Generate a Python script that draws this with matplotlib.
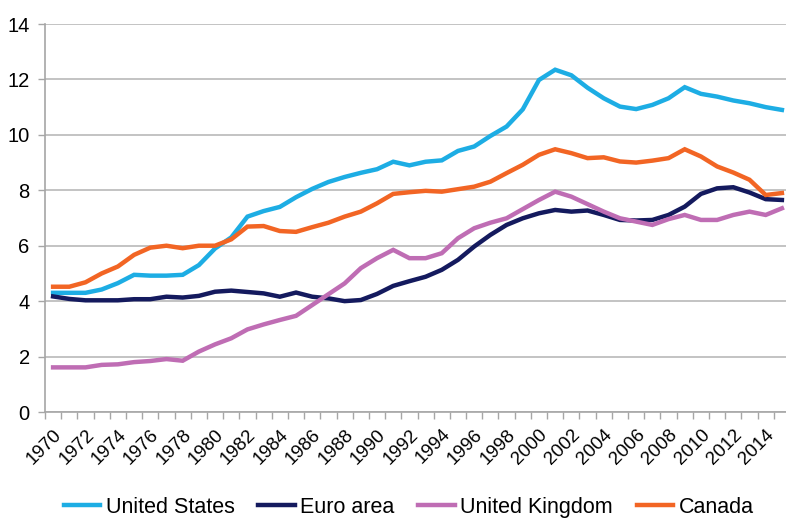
import numpy as np
import matplotlib
matplotlib.use('Agg')
import matplotlib.pyplot as plt
from matplotlib.ticker import MultipleLocator, FixedLocator

plt.rcParams['font.family'] = ['Liberation Sans', 'DejaVu Sans']

years = list(range(1970, 2016))

united_states = [4.3, 4.3, 4.3, 4.42, 4.65, 4.95, 4.92, 4.92, 4.95, 5.3,
                 5.9, 6.3, 7.05, 7.25, 7.4, 7.75, 8.05, 8.3, 8.48, 8.63,
                 8.76, 9.03, 8.9, 9.03, 9.08, 9.42, 9.58, 9.96, 10.3, 10.92,
                 11.98, 12.35, 12.15, 11.7, 11.32, 11.02, 10.93, 11.08, 11.32, 11.72,
                 11.48, 11.38, 11.24, 11.14, 11.0, 10.9]
euro_area = [4.17, 4.08, 4.03, 4.03, 4.03, 4.07, 4.07, 4.16, 4.13, 4.19,
             4.34, 4.38, 4.33, 4.28, 4.16, 4.31, 4.16, 4.1, 4.0, 4.04,
             4.26, 4.55, 4.72, 4.88, 5.13, 5.49, 5.97, 6.39, 6.75, 6.99,
             7.17, 7.29, 7.23, 7.27, 7.11, 6.93, 6.91, 6.93, 7.11, 7.41,
             7.87, 8.07, 8.11, 7.92, 7.68, 7.65]
united_kingdom = [1.61, 1.61, 1.61, 1.7, 1.72, 1.8, 1.84, 1.91, 1.85, 2.18,
                  2.44, 2.66, 2.98, 3.16, 3.32, 3.47, 3.86, 4.25, 4.64, 5.19,
                  5.55, 5.85, 5.55, 5.55, 5.73, 6.27, 6.63, 6.83, 6.99, 7.32,
                  7.65, 7.95, 7.77, 7.5, 7.23, 6.99, 6.87, 6.75, 6.96, 7.11,
                  6.93, 6.93, 7.11, 7.23, 7.11, 7.35]
canada = [4.52, 4.52, 4.68, 5.0, 5.25, 5.67, 5.93, 6.0, 5.91, 6.0,
          6.0, 6.23, 6.69, 6.71, 6.53, 6.5, 6.67, 6.83, 7.05, 7.23,
          7.53, 7.87, 7.93, 7.98, 7.95, 8.04, 8.13, 8.31, 8.62, 8.92,
          9.28, 9.48, 9.34, 9.16, 9.19, 9.04, 9.0, 9.07, 9.16, 9.48,
          9.22, 8.86, 8.64, 8.38, 7.83, 7.9]

series = [
    ('United States', united_states, '#1DADE4'),
    ('Euro area', euro_area, '#141A5E'),
    ('United Kingdom', united_kingdom, '#BF6DB4'),
    ('Canada', canada, '#F26524'),
]

fig = plt.figure(figsize=(7.86, 5.19), dpi=100)
W, H = 786, 519
left, top, bottom, right = 45, 24, 412, 790
ax = fig.add_axes([left / W, (H - bottom) / H, (right - left) / W, (bottom - top) / H])

for name, vals, color in series:
    ax.plot(years, vals, color=color, linewidth=3.2, label=name,
            solid_joinstyle='miter', zorder=3)

ax.set_xlim(1969.5, 2015.5)
ax.set_ylim(0, 14)

# y axis
ax.yaxis.set_major_locator(MultipleLocator(2))
ax.grid(axis='y', color='#BEBEBE', linewidth=1.3, zorder=0)
ax.tick_params(axis='y', length=5, width=1, color='#A6A6A6', pad=6,
               labelsize=14.5)

# x axis: labels every other year, tick marks at category boundaries
ax.xaxis.set_major_locator(FixedLocator(years[::2]))
ax.set_xticklabels([str(y) for y in years[::2]], rotation=45,
                   ha='right', va='top', rotation_mode='anchor')
ax.xaxis.set_minor_locator(FixedLocator([y - 0.5 for y in years] + [2015.5]))
ax.tick_params(axis='x', which='major', length=0, pad=10, labelsize=13.5)
ax.tick_params(axis='x', which='minor', length=5, width=1, color='#A6A6A6')

for side in ['top', 'right']:
    ax.spines[side].set_visible(False)
ax.spines['left'].set_color('#A6A6A6')
ax.spines['bottom'].set_color('#A6A6A6')
ax.spines['left'].set_linewidth(1.2)
ax.spines['bottom'].set_linewidth(1.2)

fig.legend(loc='center', bbox_to_anchor=(0.52, 0.023), ncol=4, frameon=False,
           fontsize=15.5, handlelength=1.7, handletextpad=0.25,
           columnspacing=1.1, borderaxespad=0)

fig.savefig('out.png', dpi=100)
plt.close(fig)
